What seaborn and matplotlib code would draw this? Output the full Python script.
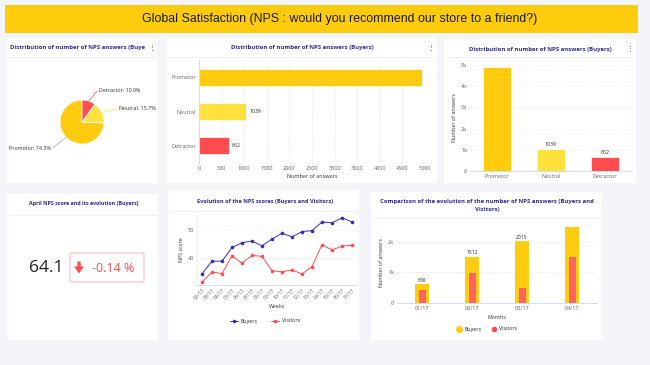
import numpy as np
import pandas as pd
import matplotlib.pyplot as plt
import seaborn as sns
from matplotlib.patches import Rectangle, FancyBboxPatch, Polygon
from matplotlib.lines import Line2D
from matplotlib.ticker import FuncFormatter

W, H = 650, 365

answer_types = ["Promotor", "Neutral", "Detractor"]
answer_counts = [4925, 1039, 662]
answer_colors = ["#ffcb0f", "#ffe03d", "#ff4d4f"]

weeks = ["02/17", "03/17", "04/17", "05/17", "06/17", "07/17", "08/17", "09/17",
         "10/17", "11/17", "12/17", "13/17", "14/17", "15/17", "16/17", "17/17"]
buyers_nps = [34.4, 38.9, 38.9, 43.8, 45.5, 46.1, 44.4, 46.8,
              48.9, 47.6, 49.5, 49.8, 52.9, 52.6, 54.4, 52.9]
visitors_nps = [31.5, 35.0, 34.5, 40.8, 38.2, 41.0, 40.6, 35.5,
                35.1, 35.8, 34.3, 37.0, 44.8, 42.9, 44.3, 44.6]

months = ["01/17", "02/17", "03/17", "04/17"]
buyers_answers = [608, 1512, 2015, 2490]
visitors_answers = [430, 980, 490, 1510]

april_score = 64.1
april_change = -0.14

TITLE_C = "#2e2a94"
TICK_C = "#666666"
AXIS_C = "#ccd6eb"
GRID_C = "#e3e3e3"

sns.set_theme(style="white")
plt.rcParams["font.family"] = ["Open Sans", "DejaVu Sans"]

fig = plt.figure(figsize=(6.5, 3.65), dpi=100)
fig.patch.set_facecolor("#f4f5f8")

bg = fig.add_axes([0, 0, 1, 1])
bg.set_xlim(0, W)
bg.set_ylim(H, 0)
bg.axis("off")
bg.set_facecolor("none")


def px_axes(x0, y0, x1, y1):
    return fig.add_axes([x0 / W, 1 - y1 / H, (x1 - x0) / W, (y1 - y0) / H])


def panel(x0, y0, x1, y1, title, sep_y, tx, ty, ha="center", size=4.3, menu=False):
    bg.add_patch(Rectangle((x0, y0), x1 - x0, y1 - y0, fc="white", ec="none"))
    bg.plot([x0 + 2, x1 - 2], [sep_y, sep_y], color="#eeeeee", lw=0.6)
    for i, line in enumerate(title.split("\n")):
        bg.text(tx, ty + i * 8, line, ha=ha, va="center", fontsize=size,
                fontweight="bold", color=TITLE_C)
    if menu:
        bg.text(x1 - 6, ty - 1, "\u22ee", ha="center", va="center", fontsize=5,
                color="#555555", family="DejaVu Sans")


def style_axes(ax, left=False):
    for s in ["top", "right"]:
        ax.spines[s].set_visible(False)
    ax.spines["left"].set_visible(left)
    ax.spines["left"].set_color(AXIS_C)
    ax.spines["left"].set_linewidth(0.6)
    ax.spines["bottom"].set_color(AXIS_C)
    ax.spines["bottom"].set_linewidth(0.6)
    ax.tick_params(labelsize=4, colors=TICK_C, length=0, pad=2)
    ax.set_facecolor("none")


# banner
bg.add_patch(Rectangle((5, 5), 633, 28, fc="#ffcb0d", ec="none"))
bg.text(340, 19, "Global Satisfaction (NPS : would you recommend our store to a friend?)",
        ha="center", va="center", fontsize=8.9, color="#1a1a1a", family="Liberation Sans")

# panels
panel(7, 38, 158, 183, "Distribution of number of NPS answers (Buye", 57, 10, 48,
      ha="left", menu=True)
panel(166, 38, 437, 183, "Distribution of number of NPS answers (Buyers)", 57, 302, 48,
      menu=True)
panel(444, 39, 636, 183, "Distribution of number of NPS answers (Buyers)", 57, 540, 49,
      menu=True)
panel(7, 194, 158, 340, "April NPS score and its evolution (Buyers)", 215, 84, 203, size=3.9)
panel(168, 190, 359, 340, "Evolution of the NPS scores (Buyers and Visitors)", 211, 265, 202,
      size=4.1)
panel(371, 192, 602, 340,
      "Comparison of the evolution of the number of NPS answers (Buyers and\nVisitors)",
      218, 487, 201)

df_ans = pd.DataFrame({"type": answer_types, "count": answer_counts})

# pie
cx, cy, r = 82, 122, 22
ax1 = px_axes(10, 62, 155, 180)
ax1.pie(answer_counts, colors=answer_colors, startangle=90, counterclock=True,
        wedgeprops=dict(edgecolor="white", linewidth=0.6))
ax1.set_xlim((10 - cx) / r, (155 - cx) / r)
ax1.set_ylim(-(180 - cy) / r, (cy - 62) / r)
ax1.set_aspect("equal", adjustable="datalim")
total = sum(answer_counts)
label_px = {"Promotor": (51, 148, "right"), "Neutral": (119, 109, "left"),
            "Detractor": (99, 91, "left")}
start = 90.0
for name, val, col in zip(answer_types, answer_counts, answer_colors):
    frac = val / total
    mid = np.radians(start + 180 * frac)
    start += 360 * frac
    lx, ly, ha = label_px[name]
    tx, ty = (lx - cx) / r, (cy - ly) / r
    ex, ey = np.cos(mid), np.sin(mid)
    end_x = tx - 0.08 if ha == "left" else tx + 0.08
    ax1.plot([ex, end_x], [ey, ty], color=col if name != "Promotor" else "#a3a6c9", lw=0.5)
    ax1.text(tx, ty, f"{name}: {100 * frac:.1f}%", ha=ha, va="center", fontsize=3.9,
             color="#333333")

# horizontal bars
ax2 = px_axes(199, 60, 425, 163)
sns.barplot(data=df_ans, x="count", y="type", hue="type", palette=answer_colors,
            saturation=1, width=0.5, legend=False, ax=ax2, edgecolor="white", linewidth=0.5)
style_axes(ax2, left=True)
ax2.set_xlim(0, 5000)
ax2.set_xticks(range(0, 5001, 500))
ax2.xaxis.grid(True, color=GRID_C, ls=(0, (2, 2)), lw=0.5)
ax2.spines["bottom"].set_visible(False)
ax2.set_yticks(np.arange(-0.5, 3, 1), minor=True)
ax2.tick_params(axis="y", which="minor", length=3, color=AXIS_C, width=0.5)
ax2.set_ylabel("")
ax2.set_xlabel("Number of answers", fontsize=4, color="#333333", labelpad=2)
for i, v in enumerate(answer_counts):
    if i > 0:
        ax2.text(v + 70, i, str(v), va="center", fontsize=3.8, color="#333333")

# vertical bars
ax3 = px_axes(470, 65, 632, 171)
sns.barplot(data=df_ans, x="type", y="count", hue="type", palette=answer_colors,
            saturation=1, width=0.52, legend=False, ax=ax3, edgecolor="white", linewidth=0.5)
style_axes(ax3)
ax3.set_ylim(0, 5000)
ax3.set_yticks(range(0, 5001, 1000))
ax3.yaxis.set_major_formatter(FuncFormatter(lambda v, p: "0" if v == 0 else f"{v / 1000:.0f}k"))
ax3.yaxis.grid(True, color=GRID_C, ls=(0, (2, 2)), lw=0.5)
ax3.set_xticks(np.arange(-0.5, 3, 1), minor=True)
ax3.tick_params(axis="x", which="minor", length=3, color=AXIS_C, width=0.5)
ax3.set_xlabel("")
ax3.set_ylabel("Number of answers", fontsize=3.8, color="#333333", labelpad=3)
for i, v in enumerate(answer_counts):
    if i > 0:
        ax3.text(i, v + 100, str(v), ha="center", va="bottom", fontsize=3.8, color="#333333")

# KPI
bg.text(63, 268, f"{april_score:.1f}", ha="right", va="center", fontsize=12.5,
        color="#222222")
bg.add_patch(FancyBboxPatch((70, 253), 74, 29, boxstyle="round,pad=0,rounding_size=1.5",
                            fc="white", ec="#ffb3b3", lw=0.7))
bg.add_patch(Polygon([(77.3, 261.5), (80.7, 261.5), (80.7, 266.5), (84, 266.5), (79, 273.5),
                      (74, 266.5), (77.3, 266.5)], closed=True, fc="#ff4d4f", ec="none"))
bg.text(92, 268, f"{april_change:.2f} %", ha="left", va="center", fontsize=9,
        color="#ff4d4f")

# NPS evolution
df_nps = pd.DataFrame({
    "week": weeks * 2,
    "score": buyers_nps + visitors_nps,
    "group": ["Buyers"] * len(weeks) + ["Visitors"] * len(weeks),
})
line_pal = {"Buyers": "#3b2db3", "Visitors": "#ff4d4f"}
ax5 = px_axes(197, 215, 357, 285)
sns.lineplot(data=df_nps, x="week", y="score", hue="group", palette=line_pal, marker="o",
             markersize=2.6, markeredgewidth=0, linewidth=0.7, sort=False, legend=False, ax=ax5)
style_axes(ax5, left=True)
ax5.spines["left"].set_color("#eeeeee")
ax5.set_xlim(-0.5, len(weeks) - 0.5)
ax5.set_ylim(30.4, 55.4)
ax5.set_yticks([40, 50])
ax5.yaxis.grid(True, color=GRID_C, ls=(0, (2, 2)), lw=0.5)
ax5.set_xticks(range(len(weeks)))
ax5.set_xticklabels(weeks, rotation=45, ha="right", rotation_mode="anchor", fontsize=3.6)
ax5.set_xticks(np.arange(-0.5, len(weeks), 1), minor=True)
ax5.tick_params(axis="x", which="minor", length=2, color=AXIS_C, width=0.5)
ax5.set_xlabel("Weeks", fontsize=3.8, color="#333333", labelpad=2)
ax5.set_ylabel("NPS score", fontsize=3.8, color="#333333", labelpad=3)
h5 = [Line2D([], [], color=line_pal[g], marker="o", markersize=2.6, lw=0.7,
             markeredgewidth=0) for g in line_pal]
ax5.legend(h5, list(line_pal), loc="center", bbox_to_anchor=(265 / W, 1 - 321 / H),
           bbox_transform=fig.transFigure, ncol=2, frameon=False, fontsize=3.8,
           handlelength=1.6, columnspacing=2.5, handletextpad=0.5)

# answers by month
df_m = pd.DataFrame({"month": months, "Buyers": buyers_answers, "Visitors": visitors_answers})
ax6 = px_axes(397, 223, 597, 303)
sns.barplot(data=df_m, x="month", y="Buyers", color="#ffcb0f", saturation=1, width=0.28,
            linewidth=0, ax=ax6)
sns.barplot(data=df_m, x="month", y="Visitors", color="#ff6363", saturation=1, width=0.14,
            linewidth=0, ax=ax6)
style_axes(ax6)
ax6.set_xlim(-0.5, len(months) - 0.5)
ax6.set_ylim(0, 2620)
ax6.set_yticks([0, 1000, 2000])
ax6.yaxis.set_major_formatter(FuncFormatter(lambda v, p: "0" if v == 0 else f"{v / 1000:.0f}k"))
ax6.yaxis.grid(True, color=GRID_C, ls=(0, (2, 2)), lw=0.5)
ax6.set_xticks(np.arange(-0.5, len(months), 1), minor=True)
ax6.tick_params(axis="x", which="minor", length=3, color=AXIS_C, width=0.5)
ax6.set_xlabel("Months", fontsize=3.8, color="#333333", labelpad=2)
ax6.set_ylabel("Number of answers", fontsize=3.8, color="#333333", labelpad=3)
for i, v in enumerate(buyers_answers[:-1]):
    ax6.text(i, v + 60, str(v), ha="center", va="bottom", fontsize=3.6, color="#333333")
h6 = [Line2D([], [], color="#ffcb0f", marker="o", markersize=4, lw=0),
      Line2D([], [], color="#ff4d4f", marker="o", markersize=3, lw=0)]
ax6.legend(h6, ["Buyers", "Visitors"], loc="center", bbox_to_anchor=(487 / W, 1 - 329 / H),
           bbox_transform=fig.transFigure, ncol=2, frameon=False, fontsize=3.8,
           handlelength=1, columnspacing=2, handletextpad=0.4)

fig.savefig("out.png", dpi=100, facecolor=fig.get_facecolor())
